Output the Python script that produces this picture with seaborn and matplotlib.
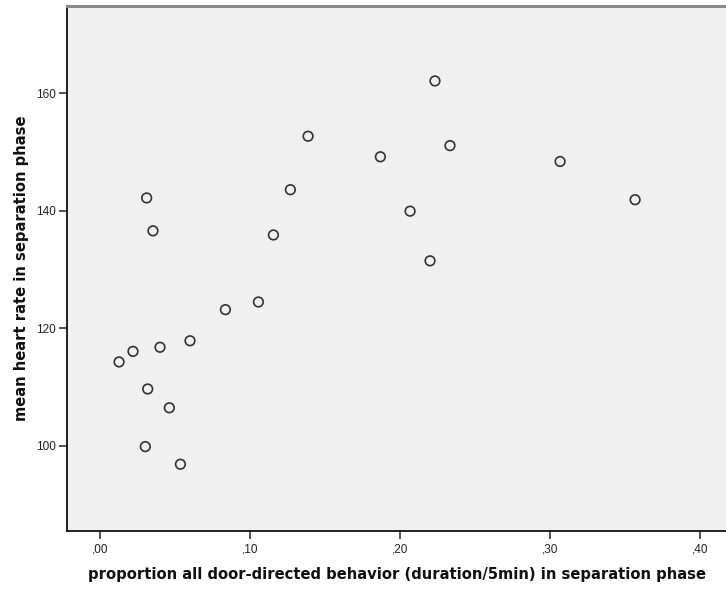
import matplotlib
matplotlib.use("Agg")
import matplotlib.pyplot as plt
from matplotlib.ticker import FuncFormatter
import seaborn as sns
import pandas as pd

# proportion of door-directed behaviour and mean heart rate during separation
door_prop = [0.0127, 0.0220, 0.0400, 0.0600, 0.0836, 0.1056, 0.0318, 0.0462,
             0.0302, 0.0536, 0.0311, 0.0353, 0.1387, 0.1269, 0.1156, 0.2233,
             0.2333, 0.1869, 0.2067, 0.2200, 0.3067, 0.3567]
heart_rate = [114.3, 116.1, 116.8, 117.9, 123.2, 124.5, 109.7, 106.5,
              99.9, 96.9, 142.2, 136.6, 152.7, 143.6, 135.9, 162.1,
              151.1, 149.2, 139.95, 131.5, 148.4, 141.9]

x_ticks = [0.0, 0.1, 0.2, 0.3, 0.4]
y_ticks = [100, 120, 140, 160]

x_label = "proportion all door-directed behavior (duration/5min) in separation phase"
y_label = "mean heart rate in separation phase"

df = pd.DataFrame({"door": door_prop, "hr": heart_rate})

sns.set_style("white", {"axes.facecolor": "#F0F0F0"})
plt.rcParams["font.family"] = ["Liberation Sans", "DejaVu Sans"]

fig = plt.figure(figsize=(7.26, 5.89), dpi=100)
ax = fig.add_axes([67 / 726, 1 - 531 / 589, 1 - 67 / 726, (531 - 6) / 589])

sns.scatterplot(data=df, x="door", y="hr", ax=ax, marker="o", s=48,
                facecolor="none", edgecolor="#333333", linewidth=1.2)

ax.set_xlim(-0.022, 0.4173)
ax.set_ylim(85.54, 174.85)
ax.set_xticks(x_ticks)
ax.set_yticks(y_ticks)
ax.xaxis.set_major_formatter(FuncFormatter(lambda v, p: f"{v:.2f}".replace("0.", ",")))
ax.yaxis.set_major_formatter(FuncFormatter(lambda v, p: f"{v:.0f}"))

for side in ("left", "bottom"):
    ax.spines[side].set_color("#111111")
    ax.spines[side].set_linewidth(1.3)
ax.spines["top"].set_color("#8a8a8a")
ax.spines["top"].set_linewidth(2.2)
ax.spines["right"].set_visible(False)

ax.tick_params(axis="both", which="major", length=6, width=1.3, color="#444444",
               labelsize=8.5, labelcolor="#222222", left=True, bottom=True)
ax.tick_params(axis="x", pad=3)
ax.tick_params(axis="y", pad=2)

label_font = dict(family=["DejaVu Sans"], fontweight="bold",
                  fontsize=10.6, color="#111111")
ax.set_xlabel(x_label, labelpad=8, **label_font)
ax.set_ylabel(y_label, labelpad=5, **label_font)

fig.savefig("out.png", dpi=100)
